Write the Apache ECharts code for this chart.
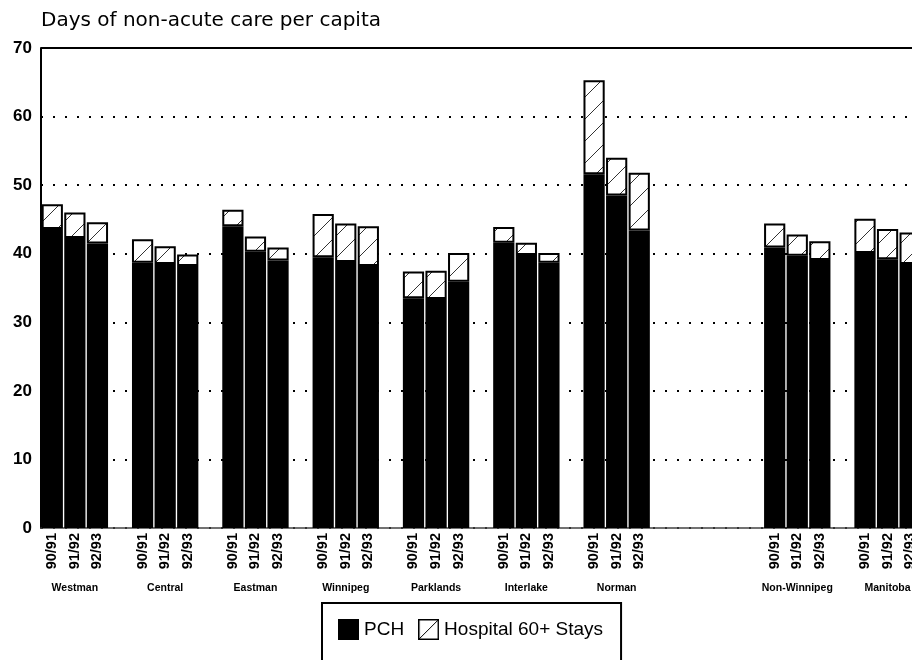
<!DOCTYPE html>
<html>
<head>
<meta charset="utf-8">
<script src="https://cdn.jsdelivr.net/npm/echarts@6/dist/echarts.min.js"></script>
<style>
  html, body { margin: 0; padding: 0; background: #fff; }
  #main { width: 912px; height: 660px; }
</style>
</head>
<body>
<div id="main"></div>
<script>
// regions in chart order, '' is the blank gap before the totals
const regions = ['Westman', 'Central', 'Eastman', 'Winnipeg', 'Parklands', 'Interlake', 'Norman', '', 'Non-Winnipeg', 'Manitoba'];
const years = ['90/91', '91/92', '92/93'];

// PCH days per capita, 3 years per region
const pchDays = [
  43.6, 42.3, 41.5,   // Westman
  38.7, 38.5, 38.2,   // Central
  44.0, 40.3, 39.0,   // Eastman
  39.5, 38.8, 38.2,   // Winnipeg
  33.5, 33.4, 35.9,   // Parklands
  41.6, 39.8, 38.7,   // Interlake
  51.6, 48.5, 43.4,   // Norman
  40.9, 39.7, 39.1,   // Non-Winnipeg
  40.1, 39.2, 38.5    // Manitoba
];

// hospital 60+ stays, stacked on top of PCH
const hospitalDays = [
  3.6, 3.7, 3.1,
  3.4, 2.6, 1.7,
  2.4, 2.2, 1.9,
  6.3, 5.6, 5.8,
  3.9, 4.1, 4.2,
  2.3, 1.8, 1.4,
  13.7, 5.5, 8.4,
  3.5, 3.1, 2.7,
  5.0, 4.4, 4.6
];

const yTicks = { min: 0, max: 70, step: 10 };

// one slot per bar plus one empty slot after each region
const cats = [], pchData = [], hospData = [];
let k = 0;
regions.forEach(function (r, gi) {
  years.concat(['']).forEach(function (y) {
    const filled = !!(r && y);
    cats.push(gi + '|' + r + '|' + (filled ? y : ''));
    if (filled) {
      pchData.push(pchDays[k]);
      hospData.push(hospitalDays[k]);
      k++;
    } else {
      pchData.push('-');
      hospData.push('-');
    }
  });
});

// diagonal hatch tile
function hatchTile(size) {
  const c = document.createElement('canvas');
  c.width = c.height = size;
  const ctx = c.getContext('2d');
  ctx.fillStyle = '#fff';
  ctx.fillRect(0, 0, size, size);
  ctx.strokeStyle = '#333';
  ctx.lineWidth = 1;
  ctx.beginPath();
  ctx.moveTo(-2, size + 2);
  ctx.lineTo(size + 2, -2);
  ctx.stroke();
  return c;
}

function hatchIcon() {
  const c = document.createElement('canvas');
  c.width = c.height = 21;
  const ctx = c.getContext('2d');
  ctx.fillStyle = '#fff';
  ctx.fillRect(0, 0, 21, 21);
  ctx.strokeStyle = '#000';
  ctx.lineWidth = 1.5;
  ctx.strokeRect(0.75, 0.75, 19.5, 19.5);
  ctx.lineWidth = 1;
  ctx.beginPath();
  ctx.moveTo(1, 20);
  ctx.lineTo(20, 1);
  ctx.stroke();
  return 'image://' + c.toDataURL();
}

const font = 'Liberation Sans';
const chart = echarts.init(document.getElementById('main'), null, { renderer: 'canvas' });

chart.setOption({
  animation: false,
  backgroundColor: '#fff',
  title: {
    text: 'Days of non-acute care per capita',
    left: 41,
    top: 11,
    padding: 0,
    textStyle: { fontFamily: 'DejaVu Sans', fontSize: 20, fontWeight: 'normal', color: '#000' }
  },
  legend: {
    left: 322,
    top: 603,
    padding: [16, 18, 40, 16],
    borderColor: '#000',
    borderWidth: 2,
    itemWidth: 21,
    itemHeight: 21,
    itemGap: 14,
    selectedMode: false,
    textStyle: { fontFamily: font, fontSize: 19, color: '#000' },
    data: [
      { name: 'PCH', icon: 'rect' },
      { name: 'Hospital 60+ Stays', icon: hatchIcon() }
    ]
  },
  grid: { left: 41, top: 48, width: 903, height: 480, outerBoundsMode: 'none', containLabel: false },
  xAxis: [
    {
      type: 'category',
      data: cats,
      boundaryGap: true,
      axisLine: { show: true, lineStyle: { color: '#444', width: 1.5 } },
      axisTick: { show: false },
      axisLabel: {
        interval: 0,
        rotate: 90,
        margin: 5,
        fontFamily: font,
        fontSize: 14.5,
        fontWeight: 'bold',
        color: '#000',
        formatter: function (v) { return v.split('|')[2]; }
      }
    },
    {
      type: 'category',
      data: cats,
      position: 'bottom',
      boundaryGap: true,
      axisLine: { show: false },
      axisTick: { show: false },
      axisLabel: {
        interval: 0,
        margin: 55,
        fontFamily: font,
        fontSize: 10.5,
        fontWeight: 'bold',
        color: '#000',
        formatter: function (v) {
          const p = v.split('|');
          return p[2] === years[1] ? p[1] : '';
        }
      }
    }
  ],
  yAxis: {
    type: 'value',
    min: yTicks.min,
    max: yTicks.max,
    interval: yTicks.step,
    axisLine: { show: true, lineStyle: { color: '#000', width: 2 } },
    axisTick: { show: false },
    axisLabel: { margin: 9, fontFamily: font, fontSize: 17, fontWeight: 'bold', color: '#000' },
    splitLine: { show: true, lineStyle: { color: '#000', width: 2, type: [2, 10] } }
  },
  series: [
    {
      name: 'PCH',
      type: 'bar',
      stack: 'days',
      barCategoryGap: '6%',
      data: pchData,
      itemStyle: { color: '#000' }
    },
    {
      name: 'Hospital 60+ Stays',
      type: 'bar',
      stack: 'days',
      data: hospData,
      itemStyle: {
        color: { image: hatchTile(22), repeat: 'repeat' },
        borderColor: '#000',
        borderWidth: 2
      },
      markLine: {
        silent: true,
        symbol: ['none', 'none'],
        label: { show: false },
        lineStyle: { color: '#000', type: 'solid', width: 2 },
        data: [{ yAxis: 70 }]
      }
    }
  ]
});
</script>
</body>
</html>
